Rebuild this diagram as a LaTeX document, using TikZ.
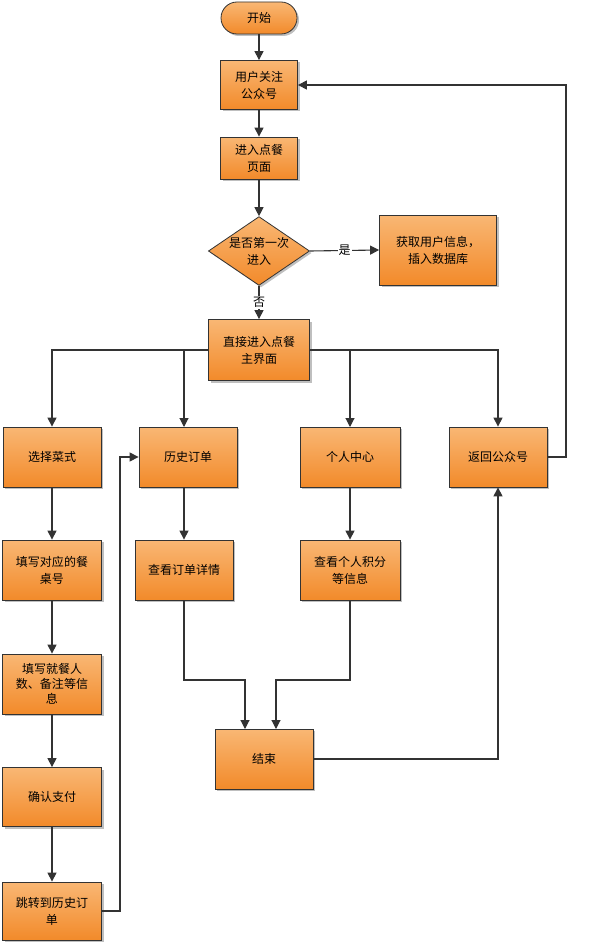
\documentclass[tikz,border=0pt]{standalone}
\usepackage{fontspec}
\setmainfont{Noto Sans CJK SC}
\usetikzlibrary{shapes.geometric,arrows.meta,shadows}
\definecolor{otop}{HTML}{F9B774}
\definecolor{obot}{HTML}{F28A2A}
\definecolor{ln}{HTML}{333333}
\begin{document}
\begin{tikzpicture}[x=1pt,y=-1pt,
 box/.style={draw=ln,line width=0.8pt,top color=otop,bottom color=obot,drop shadow={shadow xshift=2pt,shadow yshift=-2pt,fill=black!25,opacity=1},align=center,font=\fontsize{12}{17}\selectfont,inner sep=2pt},
 arr/.style={draw=ln,line width=1.1pt,-{Triangle[length=9pt,width=9pt]}},
 ln/.style={draw=ln,line width=1.1pt}]
\useasboundingbox (0,0) rectangle (601,947);
\node[box,rounded corners=16pt,minimum width=76pt,minimum height=32pt] (start) at (259,18) {开始};
\node[box,minimum width=77pt,minimum height=49pt] (gz) at (259,85) {用户关注\\公众号};
\node[box,minimum width=77pt,minimum height=42pt] (jr) at (259,158) {进入点餐\\页面};
\node[box,diamond,aspect=1.47,minimum width=100pt,minimum height=68pt,inner sep=0pt] (dec) at (259,251) {是否第一次\\进入};
\node[box,minimum width=117pt,minimum height=70pt] (hq) at (438,250) {获取用户信息，\\插入数据库};
\node[box,minimum width=101pt,minimum height=61pt] (zj) at (259,350) {直接进入点餐\\主界面};
\node[box,minimum width=98pt,minimum height=60pt] (xz) at (52,457) {选择菜式};
\node[box,minimum width=98pt,minimum height=60pt] (ls) at (188,457) {历史订单};
\node[box,minimum width=100pt,minimum height=60pt] (gr) at (350,457) {个人中心};
\node[box,minimum width=98pt,minimum height=60pt] (fh) at (498,457) {返回公众号};
\node[box,minimum width=99pt,minimum height=60pt] (tx) at (52,570) {填写对应的餐\\桌号};
\node[box,minimum width=98pt,minimum height=60pt] (ck) at (184,570) {查看订单详情};
\node[box,minimum width=100pt,minimum height=60pt] (jf) at (350,570) {查看个人积分\\等信息};
\node[box,minimum width=99pt,minimum height=60pt,font=\fontsize{12}{15}\selectfont] (rs) at (52,684) {填写就餐人\\数、备注等信\\息};
\node[box,minimum width=99pt,minimum height=59pt] (zf) at (52,797) {确认支付};
\node[box,minimum width=99pt,minimum height=58pt] (tz) at (52,911) {跳转到历史订\\单};
\node[box,minimum width=98pt,minimum height=60pt] (js) at (264,759) {结束};
\coordinate (c1) at (566,85);
\coordinate (c2) at (120,911);
\draw[arr] (start) -- (gz);
\draw[arr] (gz) -- (jr);
\draw[arr] (jr) -- (dec);
\draw[arr] (dec.east) -- node[fill=white,inner sep=1pt,font=\fontsize{12}{13}\selectfont]{是} (hq.west);
\draw[arr] (dec.south) -- node[fill=white,inner sep=1pt,font=\fontsize{12}{13}\selectfont]{否} (zj.north);
\draw[arr] (zj.west) -| (xz.north);
\draw[arr] (zj.west) -| (184,427);
\draw[arr] (zj.east) -| (fh.north);
\draw[arr] (zj.east) -| (350,427);
\draw[arr] (xz) -- (tx);
\draw[arr] (tx) -- (rs);
\draw[arr] (rs) -- (zf);
\draw[arr] (zf) -- (tz);
\draw[arr] (ls.south -| ck) -- (ck);
\draw[arr] (gr) -- (jf);
\draw[arr] (ck.south) |- (245,680) -- (245,729);
\draw[arr] (jf.south) |- (276,680) -- (276,729);
\draw[arr] (js.east) -| (fh.south);
\draw[arr] (fh.east) -| (c1) -- (gz.east);
\draw[arr] (tz.east) -- (c2) |- (ls.west);
\end{tikzpicture}
\end{document}
